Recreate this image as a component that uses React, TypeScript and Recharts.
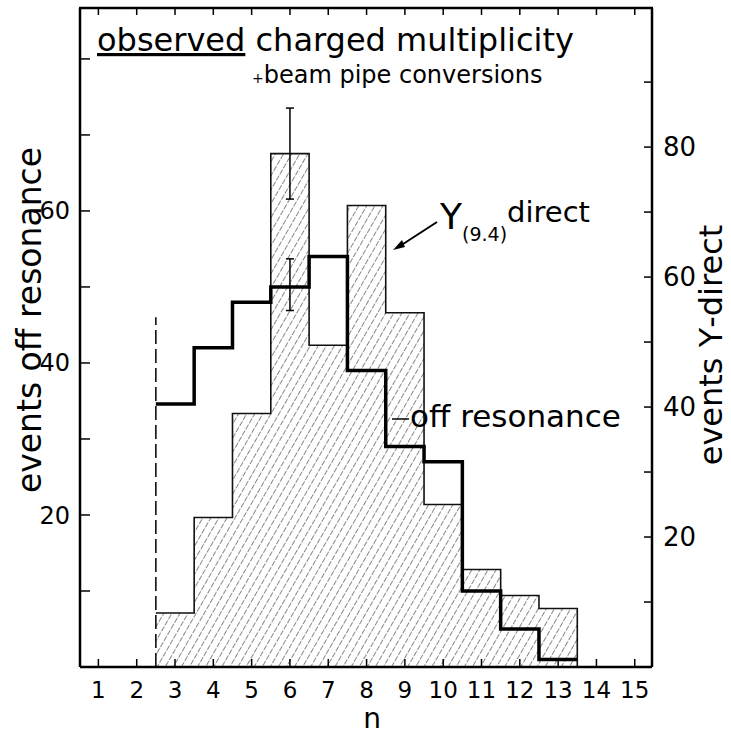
import React from 'react'
import { ComposedChart, Area, Line, Scatter, ErrorBar, XAxis, YAxis, ReferenceLine } from 'recharts'

// observed charged multiplicity, one bin per n
const multiplicity = [3, 4, 5, 6, 7, 8, 9, 10, 11, 12, 13]
// left axis: events off resonance (thick step line)
const offResonance = [34.6, 42, 48, 50, 54, 39, 29, 27, 10, 5, 1]
// right axis: events Y(9.4) direct (hatched histogram)
const upsilonDirect = [8.3, 23, 39, 79, 49.5, 71, 54.5, 25, 15, 11, 9]

const nTicks = [1, 2, 3, 4, 5, 6, 7, 8, 9, 10, 11, 12, 13, 14, 15]
const offTicks = [10, 20, 30, 40, 50, 60, 70, 80]
const offLabels = [20, 40, 60]
const directTicks = [10, 20, 30, 40, 50, 60, 70, 80, 90]
const directLabels = [20, 40, 60, 80]

const directError = [{ n: 6, value: 79, err: 7 }]
const offError = [{ n: 6, value: 50.3, err: 3.4 }]

// dashed cut at the start of the histogram
const cutN = 2.5
const cutTop = 46

const X_DOMAIN = [0.52, 15.45]
const OFF_DOMAIN = [0, 86.7]
const DIRECT_DOMAIN = [0, 101.4]

const FONT = '"DejaVu Sans", sans-serif'

// plot box, used for the frame on top
const PLOT_LEFT = 80
const PLOT_RIGHT = 652
const PLOT_TOP = 8

const last = multiplicity.length - 1
const histogram = multiplicity.map((n, i) => ({ n: n - 0.5, off: offResonance[i], direct: upsilonDirect[i] }))
histogram.push({ n: multiplicity[last] + 0.5, off: offResonance[last], direct: 0 })

const axisLine = { stroke: '#000', strokeWidth: 2.5 }
const tickLine = { stroke: '#000', strokeWidth: 1.5 }

const nToX = (n: number) =>
  PLOT_LEFT + ((n - X_DOMAIN[0]) / (X_DOMAIN[1] - X_DOMAIN[0])) * (PLOT_RIGHT - PLOT_LEFT)

export default function App() {
  return (
    <div style={{ position: 'absolute', left: 0, top: 0, width: 731, height: 738, background: '#fff' }}>
      <ComposedChart
        width={731}
        height={738}
        data={histogram}
        margin={{ top: 8, right: 29, bottom: 31, left: 20 }}
      >
        <defs>
          <pattern id="hatch" width="7" height="7" patternUnits="userSpaceOnUse" patternTransform="rotate(30)">
            <line x1="0" y1="0" x2="0" y2="7" stroke="#222" strokeWidth="1.1" strokeDasharray="4 1.5" />
          </pattern>
        </defs>
        <XAxis
          dataKey="n"
          type="number"
          domain={X_DOMAIN}
          ticks={nTicks}
          interval={0}
          allowDataOverflow
          height={40}
          tickSize={-8}
          tickMargin={23}
          axisLine={axisLine}
          tickLine={tickLine}
          tick={{ fill: '#000', fontSize: 23, fontFamily: FONT }}
        />
        <YAxis
          yAxisId="left"
          orientation="left"
          domain={OFF_DOMAIN}
          ticks={offTicks}
          interval={0}
          allowDataOverflow
          width={60}
          tickSize={-10}
          tickMargin={20}
          tickFormatter={(v) => (offLabels.includes(v) ? String(v) : '')}
          axisLine={axisLine}
          tickLine={tickLine}
          tick={{ fill: '#000', fontSize: 24, fontFamily: FONT }}
        />
        <YAxis
          yAxisId="right"
          orientation="right"
          domain={DIRECT_DOMAIN}
          ticks={directTicks}
          interval={0}
          allowDataOverflow
          width={50}
          tickSize={-8}
          tickMargin={19}
          tickFormatter={(v) => (directLabels.includes(v) ? String(v) : '')}
          axisLine={axisLine}
          tickLine={tickLine}
          tick={{ fill: '#000', fontSize: 26, fontFamily: FONT }}
        />
        <Area
          yAxisId="right"
          type="stepAfter"
          dataKey="direct"
          stroke="#111"
          strokeWidth={1.6}
          fill="url(#hatch)"
          fillOpacity={1}
          isAnimationActive={false}
        />
        <Line
          yAxisId="left"
          type="stepAfter"
          dataKey="off"
          stroke="#000"
          strokeWidth={3.5}
          dot={false}
          isAnimationActive={false}
        />
        <Scatter yAxisId="right" data={directError} dataKey="value" shape={() => <g />} isAnimationActive={false}>
          <ErrorBar dataKey="err" direction="y" width={4} stroke="#000" strokeWidth={1.5} />
        </Scatter>
        <Scatter yAxisId="left" data={offError} dataKey="value" shape={() => <g />} isAnimationActive={false}>
          <ErrorBar dataKey="err" direction="y" width={4} stroke="#000" strokeWidth={1.5} />
        </Scatter>
        <ReferenceLine
          yAxisId="left"
          segment={[{ x: cutN, y: 0 }, { x: cutN, y: cutTop }]}
          stroke="#000"
          strokeWidth={1.5}
          strokeDasharray="14 5"
          ifOverflow="visible"
        />
      </ComposedChart>
      <svg
        width={731}
        height={738}
        style={{ position: 'absolute', left: 0, top: 0, pointerEvents: 'none' }}
        fontFamily={FONT}
      >
        {/* top edge of the frame with inward ticks */}
        <line x1={PLOT_LEFT - 1} y1={PLOT_TOP} x2={PLOT_RIGHT + 1} y2={PLOT_TOP} stroke="#000" strokeWidth={2.5} />
        {nTicks.map((n) => (
          <line key={n} x1={nToX(n)} y1={PLOT_TOP} x2={nToX(n)} y2={PLOT_TOP + 7} stroke="#000" strokeWidth={1.5} />
        ))}
        <text x={97} y={51} fontSize={32} fill="#000">
          <tspan style={{ textDecoration: 'underline' }}>observed</tspan> charged multiplicity
        </text>
        <text x={252} y={83} fontSize={24} fill="#000">
          <tspan fontSize={14}>+</tspan>beam pipe conversions
        </text>
        <text x={440} y={229} fill="#000">
          <tspan fontSize={36}>Υ</tspan>
          <tspan fontSize={19} dy={12}>(9.4)</tspan>
          <tspan fontSize={29} dy={-19}>direct</tspan>
        </text>
        <line x1={437} y1={222} x2={400} y2={246} stroke="#000" strokeWidth={2} />
        <polygon points="393,250 402,240 405,247" fill="#000" />
        <line x1={392} y1={419} x2={409} y2={419} stroke="#000" strokeWidth={1.5} />
        <text x={410} y={427} fontSize={31} fill="#000">off resonance</text>
        <text x={372} y={728} fontSize={28} textAnchor="middle" fill="#000">n</text>
        <text transform="translate(41,320) rotate(-90)" textAnchor="middle" fontSize={33} fill="#000">
          events off resonance
        </text>
        <text transform="translate(722,345) rotate(-90)" textAnchor="middle" fontSize={32} fill="#000">
          events Υ-direct
        </text>
      </svg>
    </div>
  )
}
